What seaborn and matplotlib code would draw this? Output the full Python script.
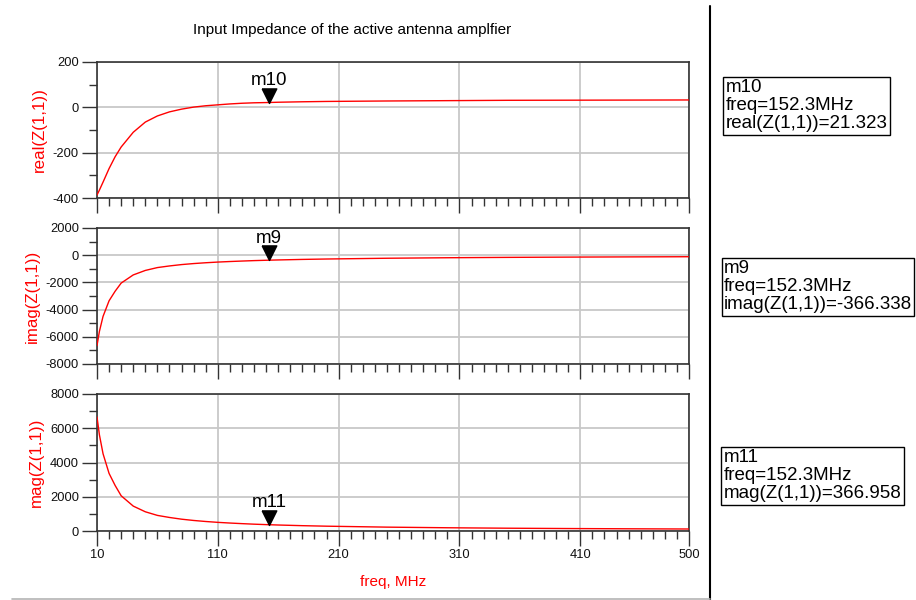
import numpy as np
import pandas as pd
import matplotlib
matplotlib.use("Agg")
import matplotlib.pyplot as plt
from matplotlib.lines import Line2D
from matplotlib.ticker import MultipleLocator, FixedLocator
import seaborn as sns

# Simulated input impedance Z(1,1) of the active antenna amplifier
freq_mhz = [10, 12, 15, 20, 25, 30, 40, 50, 60, 70, 80, 90, 100, 110, 120,
            130, 140, 152.3, 160, 180, 200, 250, 300, 350, 400, 450, 500]
real_z = [-387, -365, -330, -270, -218, -175, -110, -65, -38, -20, -8, 1, 7,
          11, 15, 18, 20, 21.323, 22.5, 24.5, 26, 28, 29.5, 31, 31.5, 32, 32.5]
imag_z = [-6650, -5600, -4500, -3350, -2650, -2050, -1450, -1120, -910, -790,
          -690, -615, -555, -505, -465, -430, -398, -366.338, -349, -310, -280,
          -224, -187, -160, -140, -125, -112]
mag_z = [6661, 5612, 4512, 3361, 2659, 2057, 1454, 1122, 911, 790, 690, 615,
         555, 505, 465, 430, 398.5, 366.958, 349.7, 311, 281, 225.7, 189.3,
         163, 143.5, 129, 116.6]

# Marker readouts
marker_freq = 152.3
marker_names = ["m10", "m9", "m11"]
marker_values = [21.323, -366.338, 366.958]

panel_cols = ["real(Z(1,1))", "imag(Z(1,1))", "mag(Z(1,1))"]
panel_ylims = [(-400, 200), (-8000, 2000), (0, 8000)]
panel_major = [200, 2000, 2000]
x_major_ticks = [10, 110, 210, 310, 410, 500]

df = pd.DataFrame({"freq": freq_mhz, panel_cols[0]: real_z,
                   panel_cols[1]: imag_z, panel_cols[2]: mag_z})

sns.set_style("white")
plt.rcParams["font.family"] = ["Liberation Sans", "DejaVu Sans"]
plt.rcParams["axes.unicode_minus"] = False

W, H = 916, 600
fig = plt.figure(figsize=(W / 100, H / 100), dpi=100)

# panel boxes in pixels: (left, top, right, bottom)
boxes = [(97, 62, 689, 198), (97, 228, 689, 364), (97, 394, 689, 531)]

# triangle marker with its tip at the data point
tri = [(-0.5, 1.0), (0.5, 1.0), (0.0, 0.0), (-0.5, 1.0)]

spine_col = "#333333"
for i, (col, ylim, major, name, mval, box) in enumerate(
        zip(panel_cols, panel_ylims, panel_major, marker_names,
            marker_values, boxes)):
    l, t, r, b = box
    ax = fig.add_axes([l / W, 1 - b / H, (r - l) / W, (b - t) / H])
    sns.lineplot(data=df, x="freq", y=col, ax=ax, color="#ff0000",
                 linewidth=1.0, zorder=3)
    ax.set_xlim(10, 500)
    ax.set_ylim(*ylim)
    ax.xaxis.set_major_locator(FixedLocator(x_major_ticks))
    ax.xaxis.set_minor_locator(MultipleLocator(10))
    ax.yaxis.set_major_locator(MultipleLocator(major))
    ax.yaxis.set_minor_locator(MultipleLocator(major / 2))
    ax.tick_params(which="major", direction="out", length=11, width=1.0,
                   color=spine_col, labelsize=9.3, pad=2, labelcolor="#111111")
    ax.tick_params(which="minor", direction="out", length=6, width=1.0,
                   color=spine_col)
    ax.tick_params(axis="x", which="both", bottom=True)
    ax.tick_params(axis="y", which="both", left=True)
    ax.grid(True, which="major", color="#c8c8c8", linewidth=1.3, zorder=0)
    for s in ax.spines.values():
        s.set_color(spine_col)
        s.set_linewidth(1.2)
        s.set_visible(True)
    ax.set_ylabel(col, color="#ff0000", fontsize=12.2, labelpad=4)
    if i < 2:
        ax.tick_params(axis="x", labelbottom=False)
        ax.set_xlabel("")
    else:
        ax.set_xlabel("freq, MHz", color="#ff0000", fontsize=11, labelpad=10)

    ax.plot([marker_freq], [mval], linestyle="none", marker=tri,
            markersize=21, color="black", zorder=5, clip_on=False)
    ax.annotate(name, (marker_freq, mval), xytext=(0, 12.5),
                textcoords="offset points", ha="center", va="baseline",
                fontsize=13.5, color="black", zorder=6)

# marker readout boxes
readout_pos = [(725.5, 79.5), (724, 260.5), (723.5, 449.5)]
for name, col, mval, (px, py) in zip(marker_names, panel_cols,
                                      marker_values, readout_pos):
    txt = f"{name}\nfreq={marker_freq}MHz\n{col}={mval:.3f}"
    fig.text(px / W, 1 - py / H, txt, ha="left", va="top", fontsize=13.5,
             linespacing=1.07, color="black",
             bbox=dict(boxstyle="square,pad=0.12", fc="white", ec="black",
                       lw=1.0))

fig.text(352.5 / W, 1 - 30 / H,
         "Input Impedance of the active antenna amplfier",
         ha="center", va="center", fontsize=11, color="black")

fig.add_artist(Line2D([710.3 / W, 710.3 / W], [0, 1 - 6 / H],
                      transform=fig.transFigure, color="black", lw=1.5))
fig.add_artist(Line2D([12 / W, 710 / W], [1 - 598.5 / H, 1 - 598.5 / H],
                      transform=fig.transFigure, color="#b4b4b4", lw=1.2))

fig.savefig("out.png", dpi=100)
